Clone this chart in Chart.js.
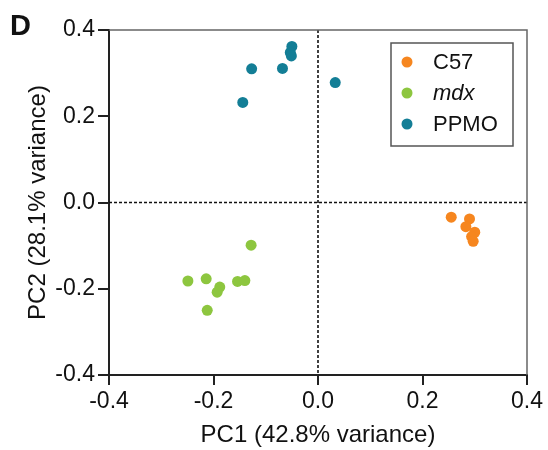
<!DOCTYPE html>
<html>
<head>
<meta charset="utf-8">
<script src="https://cdn.jsdelivr.net/npm/chart.js@4.4.1/dist/chart.umd.min.js"></script>
<style>
  html, body { margin: 0; padding: 0; background: #fff; }
  #wrap { width: 548px; height: 450px; }
</style>
</head>
<body>
<div id="wrap"><canvas id="pca" width="548" height="450"></canvas></div>
<script>
// PCA scores
const groupNames = ['C57', 'mdx', 'PPMO'];
const groupColors = ['#F6861F', '#8DC63F', '#137E96'];

const c57X = [0.255, 0.290, 0.283, 0.300, 0.294, 0.297];
const c57Y = [-0.034, -0.038, -0.056, -0.069, -0.079, -0.090];

const mdxX = [-0.128, -0.249, -0.214, -0.188, -0.193, -0.154, -0.140, -0.212];
const mdxY = [-0.099, -0.182, -0.177, -0.196, -0.208, -0.183, -0.181, -0.250];

const ppmoX = [-0.050, -0.053, -0.051, -0.127, -0.068, 0.033, -0.144];
const ppmoY = [0.362, 0.348, 0.340, 0.310, 0.311, 0.278, 0.232];

const axisTicks = [-0.4, -0.2, 0.0, 0.2, 0.4];
const panelLetter = 'D';

const FONT = "'Liberation Sans', Arial, sans-serif";

function toPoints(xs, ys) {
  return xs.map((x, i) => ({ x: x, y: ys[i] }));
}

const groups = [toPoints(c57X, c57Y), toPoints(mdxX, mdxY), toPoints(ppmoX, ppmoY)];

// zero lines, frame, legend box and panel letter
const decorations = {
  id: 'decorations',
  beforeDatasetsDraw(chart) {
    const { ctx, chartArea: a, scales } = chart;
    const x0 = scales.x.getPixelForValue(0);
    const y0 = scales.y.getPixelForValue(0);
    ctx.save();
    ctx.strokeStyle = '#111';
    ctx.lineWidth = 1.6;
    ctx.setLineDash([3, 2]);
    ctx.beginPath();
    ctx.moveTo(x0, a.top);
    ctx.lineTo(x0, a.bottom);
    ctx.moveTo(a.left, y0);
    ctx.lineTo(a.right, y0);
    ctx.stroke();
    ctx.setLineDash([]);
    // top and right edges of the frame
    ctx.strokeStyle = '#666';
    ctx.lineWidth = 1.5;
    ctx.beginPath();
    ctx.moveTo(a.left, a.top);
    ctx.lineTo(a.right, a.top);
    ctx.lineTo(a.right, a.bottom);
    ctx.stroke();
    ctx.restore();
  },
  afterDraw(chart) {
    const { ctx } = chart;
    ctx.save();
    // legend
    ctx.strokeStyle = '#555';
    ctx.lineWidth = 1.5;
    ctx.strokeRect(391, 43, 122, 103);
    ctx.textBaseline = 'middle';
    groupNames.forEach((name, i) => {
      const cy = 62 + i * 31;
      ctx.beginPath();
      ctx.fillStyle = groupColors[i];
      ctx.arc(407, cy, 5.5, 0, Math.PI * 2);
      ctx.fill();
      ctx.fillStyle = '#111';
      ctx.font = (name === 'mdx' ? 'italic ' : '') + '22px ' + FONT;
      ctx.fillText(name, 433, cy + 1);
    });
    // panel letter
    ctx.fillStyle = '#111';
    ctx.font = 'bold 29px ' + FONT;
    ctx.textBaseline = 'alphabetic';
    ctx.fillText(panelLetter, 10, 35);
    ctx.restore();
  }
};

const axisColor = '#222';

new Chart(document.getElementById('pca'), {
  type: 'scatter',
  data: {
    datasets: groups.map((pts, i) => ({
      label: groupNames[i],
      data: pts,
      backgroundColor: groupColors[i],
      borderWidth: 0,
      pointRadius: 5.5,
      pointHoverRadius: 5.5
    }))
  },
  options: {
    responsive: false,
    animation: false,
    events: [],
    layout: { padding: { top: 30, right: 21, left: 0, bottom: 0 } },
    plugins: { legend: { display: false }, tooltip: { enabled: false } },
    scales: {
      x: {
        type: 'linear',
        min: -0.4,
        max: 0.4,
        afterBuildTicks: (scale) => { scale.ticks = axisTicks.map(v => ({ value: v })); },
        afterFit: (scale) => { scale.height = 75; },
        border: { display: true, color: axisColor, width: 2 },
        grid: { drawOnChartArea: false, drawTicks: true, tickLength: 10, color: axisColor, lineWidth: 2 },
        ticks: {
          color: '#111',
          padding: 3,
          font: { family: FONT, size: 23 },
          callback: (v) => Number(v).toFixed(1)
        },
        title: {
          display: true,
          text: 'PC1 (42.8% variance)',
          color: '#111',
          font: { family: FONT, size: 24 },
          padding: { top: 0, bottom: 0 }
        }
      },
      y: {
        type: 'linear',
        min: -0.4,
        max: 0.4,
        afterBuildTicks: (scale) => { scale.ticks = axisTicks.map(v => ({ value: v })); },
        afterFit: (scale) => { scale.width = 109; },
        border: { display: true, color: axisColor, width: 2 },
        grid: { drawOnChartArea: false, drawTicks: true, tickLength: 11, color: axisColor, lineWidth: 2 },
        ticks: {
          color: '#111',
          padding: 3,
          font: { family: FONT, size: 23 },
          callback: (v) => Number(v).toFixed(1)
        },
        title: {
          display: true,
          text: 'PC2 (28.1% variance)',
          color: '#111',
          font: { family: FONT, size: 24 },
          padding: { top: 24, bottom: 0 }
        }
      }
    }
  },
  plugins: [decorations]
});
</script>
</body>
</html>
